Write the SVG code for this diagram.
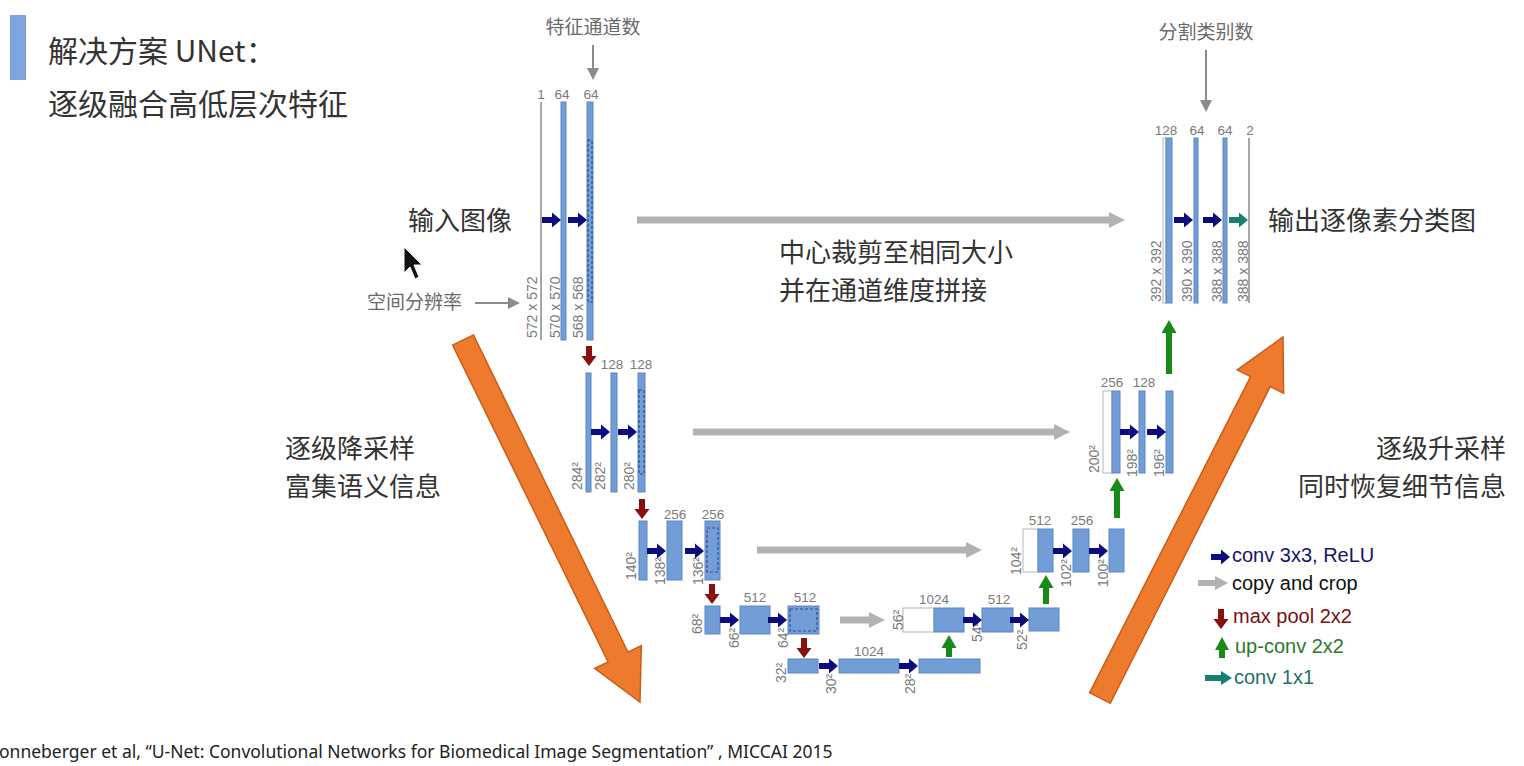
<svg xmlns="http://www.w3.org/2000/svg" xmlns:xlink="http://www.w3.org/1999/xlink" width="1524" height="766" viewBox="0 0 1524 766">
<style>
.cn{font-family:"Noto Sans CJK SC","Noto Sans",sans-serif;fill:#333;}
.cn26{font-size:26px;}
.cng{font-family:"Noto Sans CJK SC","Noto Sans",sans-serif;fill:#6a6a6a;font-size:19px;}
.num{font-family:"Liberation Sans",Arial,sans-serif;font-size:13.5px;fill:#7a7a7a;text-anchor:middle;}
.dim{font-family:"Liberation Sans",Arial,sans-serif;font-size:14px;fill:#7a7a7a;}
.bar{fill:#729dd6;stroke:#5b86c2;stroke-width:1;}
.wbar{fill:#fff;stroke:#b5b5b5;stroke-width:1;}
.dash{fill:none;stroke:#2c4f8f;stroke-width:1.2;stroke-dasharray:3 2;}
.thin{stroke:#8a8a8a;stroke-width:1.5;}
.blue{fill:#0c0c7e;}
.teal{fill:#168072;}
.red{fill:#8a0f0f;}
.green{fill:#178a17;}
.copy{fill:#b2b2b2;}
.garr{fill:#8c8c8c;}
.leg{font-family:"Liberation Sans",Arial,sans-serif;font-size:20px;}
.orange{fill:#ee7a2e;stroke:#c95d18;stroke-width:1.5;}
</style>
<defs>
<path id="ab" d="M-19,-3 H-9 V-7.5 L0,0 L-9,7.5 V3 H-19 Z"/>
<path id="ad" d="M-3,-20 H3 V-10 H7.5 L0,0 L-7.5,-10 H-3 Z"/>
</defs>
<rect width="1524" height="766" fill="#ffffff"/>

<g id="title">
<rect x="10" y="15" width="16" height="65" fill="#7fa3dc"/>
<text class="cn" x="48" y="62" font-size="30">解决方案 UNet：</text>
<text class="cn" x="48" y="115" font-size="30">逐级融合高低层次特征</text>
</g>

<g id="annotations">
<text class="cng" x="593" y="34" text-anchor="middle">特征通道数</text>
<text class="cng" x="1206" y="39" text-anchor="middle">分割类别数</text>
<text class="cng" x="367" y="309" font-size="19.5">空间分辨率</text>
<text class="cn cn26" x="408" y="230">输入图像</text>
<text class="cn cn26" x="1268" y="230">输出逐像素分类图</text>
<text class="cn cn26" x="779" y="262">中心裁剪至相同大小</text>
<text class="cn cn26" x="779" y="300">并在通道维度拼接</text>
<text class="cn cn26" x="285" y="458">逐级降采样</text>
<text class="cn cn26" x="285" y="496">富集语义信息</text>
<text class="cn cn26" x="1506" y="458" text-anchor="end">逐级升采样</text>
<text class="cn cn26" x="1506" y="496" text-anchor="end">同时恢复细节信息</text>
</g>

<g id="orange-arrows">
<polygon class="orange" points="473.4,334.9 627.9,652.1 641.3,645.6 640,702 594.7,668.4 608.1,661.9 452.6,345.1"/>
<polygon class="orange" points="1089.7,692.7 1250.6,376.6 1237.2,369.8 1283,337 1283.6,393.3 1270.2,386.6 1110.3,703.3"/>
</g>

<g id="enc1">
<line class="thin" x1="541" y1="102" x2="541" y2="340"/>
<rect class="bar" x="561" y="102" width="5" height="238"/>
<rect class="bar" x="587" y="102" width="6" height="238"/>
<rect class="dash" x="588" y="140" width="4" height="162"/>
<text class="num" x="541" y="99">1</text>
<text class="num" x="562" y="99">64</text>
<text class="num" x="591" y="99">64</text>
<text class="dim" transform="translate(537,338) rotate(-90)">572 x 572</text>
<text class="dim" transform="translate(560,338) rotate(-90)">570 x 570</text>
<text class="dim" transform="translate(583,338) rotate(-90)">568 x 568</text>
</g>

<g id="enc2">
<rect class="bar" x="586" y="373" width="5" height="119"/>
<rect class="bar" x="611" y="373" width="6" height="119"/>
<rect class="bar" x="638" y="373" width="7" height="119"/>
<rect class="dash" x="639" y="390" width="5" height="84"/>
<text class="num" x="612" y="369">128</text>
<text class="num" x="641" y="369">128</text>
<text class="dim" transform="translate(582,490) rotate(-90)">284²</text>
<text class="dim" transform="translate(605,490) rotate(-90)">282²</text>
<text class="dim" transform="translate(634,490) rotate(-90)">280²</text>
</g>

<g id="enc3">
<rect class="bar" x="639" y="521" width="8" height="59"/>
<rect class="bar" x="667" y="521" width="15" height="59"/>
<rect class="bar" x="705" y="521" width="15" height="59"/>
<rect class="dash" x="707" y="528" width="11" height="44"/>
<text class="num" x="675" y="519">256</text>
<text class="num" x="713" y="519">256</text>
<text class="dim" transform="translate(636,580) rotate(-90)">140²</text>
<text class="dim" transform="translate(665,585) rotate(-90)">138²</text>
<text class="dim" transform="translate(703,585) rotate(-90)">136²</text>
</g>

<g id="enc4">
<rect class="bar" x="705" y="606" width="15" height="28"/>
<rect class="bar" x="740" y="606" width="30" height="28"/>
<rect class="bar" x="788" y="606" width="31" height="28"/>
<rect class="dash" x="790" y="609" width="27" height="22"/>
<text class="num" x="755" y="602">512</text>
<text class="num" x="805" y="602">512</text>
<text class="dim" transform="translate(702,634) rotate(-90)">68²</text>
<text class="dim" transform="translate(739,648) rotate(-90)">66²</text>
<text class="dim" transform="translate(788,648) rotate(-90)">64²</text>
</g>

<g id="bottleneck">
<rect class="bar" x="788" y="659" width="30" height="14"/>
<rect class="bar" x="839" y="659" width="60" height="14"/>
<rect class="bar" x="919" y="659" width="61" height="14"/>
<text class="num" x="869" y="656">1024</text>
<text class="dim" transform="translate(786,683) rotate(-90)">32²</text>
<text class="dim" transform="translate(836,694) rotate(-90)">30²</text>
<text class="dim" transform="translate(915,694) rotate(-90)">28²</text>
</g>

<g id="dec4">
<rect class="wbar" x="903" y="608" width="31" height="24"/>
<rect class="bar" x="934" y="608" width="30" height="24"/>
<rect class="bar" x="982" y="608" width="31" height="24"/>
<rect class="bar" x="1029" y="608" width="30" height="23"/>
<text class="num" x="934" y="604">1024</text>
<text class="num" x="999" y="604">512</text>
<text class="dim" transform="translate(903,630) rotate(-90)">56²</text>
<text class="dim" transform="translate(982,642) rotate(-90)">54²</text>
<text class="dim" transform="translate(1027,650) rotate(-90)">52²</text>
</g>

<g id="dec3">
<rect class="wbar" x="1023" y="529" width="15" height="43"/>
<rect class="bar" x="1038" y="529" width="15" height="43"/>
<rect class="bar" x="1073" y="529" width="16" height="43"/>
<rect class="bar" x="1109" y="529" width="15" height="43"/>
<text class="num" x="1040" y="525">512</text>
<text class="num" x="1082" y="525">256</text>
<text class="dim" transform="translate(1021,575) rotate(-90)">104²</text>
<text class="dim" transform="translate(1071,587) rotate(-90)">102²</text>
<text class="dim" transform="translate(1108,587) rotate(-90)">100²</text>
</g>

<g id="dec2">
<rect class="wbar" x="1103" y="391" width="9" height="82"/>
<rect class="bar" x="1112" y="391" width="8" height="82"/>
<rect class="bar" x="1139" y="391" width="6" height="82"/>
<rect class="bar" x="1166" y="391" width="7" height="82"/>
<text class="num" x="1112" y="387">256</text>
<text class="num" x="1144" y="387">128</text>
<text class="dim" transform="translate(1099,473) rotate(-90)">200²</text>
<text class="dim" transform="translate(1137,477) rotate(-90)">198²</text>
<text class="dim" transform="translate(1164,477) rotate(-90)">196²</text>
</g>

<g id="dec1">
<rect class="wbar" x="1163" y="138" width="3" height="165"/>
<rect class="bar" x="1166" y="138" width="6" height="165"/>
<rect class="bar" x="1194" y="138" width="4" height="165"/>
<rect class="bar" x="1223" y="138" width="4" height="165"/>
<line class="thin" x1="1249" y1="138" x2="1249" y2="303"/>
<text class="num" x="1166" y="135">128</text>
<text class="num" x="1197" y="135">64</text>
<text class="num" x="1225" y="135">64</text>
<text class="num" x="1250" y="135">2</text>
<text class="dim" transform="translate(1161,302) rotate(-90)">392 x 392</text>
<text class="dim" transform="translate(1192,302) rotate(-90)">390 x 390</text>
<text class="dim" transform="translate(1222,302) rotate(-90)">388 x 388</text>
<text class="dim" transform="translate(1248,302) rotate(-90)">388 x 388</text>
</g>

<g id="connectors">
<path class="garr" d="M592,45 H594 V68 H599 L593,80 L587,68 H592 Z"/>
<path class="garr" d="M1205,50 H1207 V100 H1212 L1206,112 L1200,100 H1205 Z"/>
<path class="garr" d="M475,302 H508 V297 L520,303 L508,309 V304 H475 Z"/>
<path class="copy" d="M637,216.5 H1109 V212 L1125,220 L1109,228 V223.5 H637 Z"/>
<path class="copy" d="M693,428.5 H1054 V424 L1070,432 L1054,440 V435.5 H693 Z"/>
<path class="copy" d="M757,546.5 H966 V542 L982,550 L966,558 V553.5 H757 Z"/>
<path class="copy" d="M840,616.5 H869 V612 L885,620 L869,628 V623.5 H840 Z"/>
<use href="#ab" class="blue" x="561" y="220"/>
<use href="#ab" class="blue" x="587" y="220"/>
<use href="#ab" class="blue" x="610" y="432"/>
<use href="#ab" class="blue" x="637" y="432"/>
<use href="#ab" class="blue" x="666" y="551"/>
<use href="#ab" class="blue" x="704" y="551"/>
<use href="#ab" class="blue" x="739" y="620"/>
<use href="#ab" class="blue" x="787" y="620"/>
<use href="#ab" class="blue" x="838" y="666"/>
<use href="#ab" class="blue" x="918" y="666"/>
<use href="#ab" class="blue" x="982" y="620"/>
<use href="#ab" class="blue" x="1029" y="620"/>
<use href="#ab" class="blue" x="1072" y="551"/>
<use href="#ab" class="blue" x="1108" y="551"/>
<use href="#ab" class="blue" x="1139" y="432"/>
<use href="#ab" class="blue" x="1166" y="432"/>
<use href="#ab" class="blue" x="1193" y="220"/>
<use href="#ab" class="blue" x="1222" y="220"/>
<use href="#ab" class="teal" x="1248" y="220"/>
<use href="#ad" class="red" x="589" y="366"/>
<use href="#ad" class="red" x="642" y="519"/>
<use href="#ad" class="red" x="712" y="604"/>
<use href="#ad" class="red" x="804" y="658"/>
<path class="green" d="M1166,374 V333 H1161.5 L1169,320 L1176.5,333 H1172 V374 Z"/>
<path class="green" d="M1114,518 V491 H1109.5 L1117,478 L1124.5,491 H1120 V518 Z"/>
<path class="green" d="M1043,604 V588 H1038.5 L1046,575 L1053.5,588 H1049 V604 Z"/>
<path class="green" d="M946,657 V648 H941.5 L949,635 L956.5,648 H952 V657 Z"/>
</g>

<g id="legend">
<use href="#ab" class="blue" x="1230" y="557"/>
<text class="leg" x="1232" y="562" fill="#14146e">conv 3x3, ReLU</text>
<path class="copy" d="M1198,580 H1215 V576 L1228,583 L1215,590 V586 H1198 Z"/>
<text class="leg" x="1232" y="590" fill="#111">copy and crop</text>
<use href="#ad" class="red" x="1221" y="629"/>
<text class="leg" x="1233" y="623" fill="#7a1010">max pool 2x2</text>
<path class="green" d="M1219,658 V650 H1215 L1222,637 L1229,650 H1225 V658 Z"/>
<text class="leg" x="1235" y="653" fill="#2a7a2a">up-conv 2x2</text>
<path class="teal" d="M1205,675 H1221 V671 L1232,678 L1221,685 V681 H1205 Z"/>
<text class="leg" x="1234" y="684" fill="#1d7266">conv 1x1</text>
</g>

<g id="cursor">
<path d="M404,247 L404,273 L410,267 L415,279 L419,277 L414,265 L422,265 Z" fill="#111" stroke="#fff" stroke-width="1"/>
</g>

<text x="-1" y="758" font-family="'Noto Sans','Liberation Sans',sans-serif" font-size="17.5" fill="#222">onneberger et al,  “U-Net: Convolutional Networks for Biomedical Image Segmentation” , MICCAI 2015</text>
</svg>
